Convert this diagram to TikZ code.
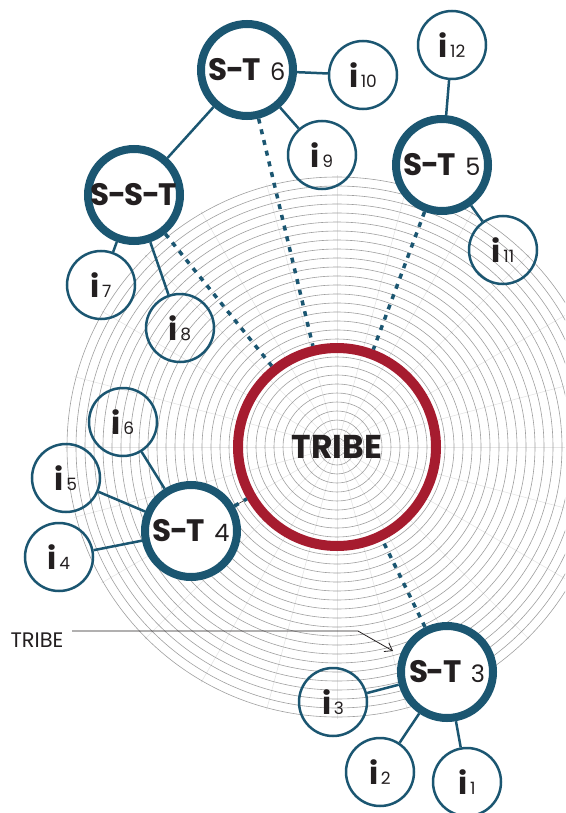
\documentclass[tikz,border=0pt]{standalone}
\usepackage{fontspec}
\setmainfont{Poppins}
\usetikzlibrary{arrows.meta,calc}
\definecolor{tribeblue}{HTML}{1B5671}
\definecolor{tribered}{HTML}{A61C2F}
\definecolor{ink}{HTML}{231F20}
\newcommand{\hy}{\kern-1.5pt-\kern-1.5pt}
\newcommand{\stnum}[1]{\hspace{0.3em}{\fontsize{24}{24}\selectfont\mdseries #1}}
\newcommand{\inum}[1]{{\fontsize{31}{31}\selectfont\bfseries i}\hspace{0.25em}{\fontsize{17}{17}\selectfont #1}}
\tikzset{
  ring/.style={gray!75, line width=0.6pt},
  spoke/.style={gray!20, line width=0.6pt},
  sub/.style={circle, draw=tribeblue, line width=8pt, fill=white, minimum size=92pt,
    inner sep=0pt, text=ink, font=\fontsize{31}{31}\selectfont\bfseries},
  ind/.style={circle, draw=tribeblue, line width=2.5pt, minimum size=68pt, inner sep=0pt, text=ink},
  link/.style={tribeblue, line width=2.5pt},
  dots/.style={tribeblue, line width=3.5pt, dash pattern=on 5pt off 6pt},
  pointer/.style={ink, line width=0.8pt, -{Straight Barb[length=7pt,width=10pt]}}
}

\begin{document}
\begin{tikzpicture}[x=1pt,y=-1pt]
  \useasboundingbox (0,0) rectangle (565,813);
  \coordinate (c) at (337,447);
  \begin{scope}
    \clip (0,0) rectangle (565,813);
    \foreach \a in {0,15,...,345}
      \draw[spoke] (c) -- ++(\a:272pt);
    \foreach \r in {9,18,...,272}
      \draw[ring] (c) circle[radius=\r pt];
  \end{scope}

  \node[circle, draw=tribered, line width=10pt, minimum size=198pt, inner sep=0pt,
    text=ink, font=\fontsize{33}{33}\selectfont\bfseries] (tribe) at (c) {TRIBE};

  \node[sub] (st6) at (247,70) {S\hy T\stnum{6}};
  \node[sub] (st5) at (442,165) {S\hy T\stnum{5}};
  \node[sub] (sst) at (134,195) {S\hy S\hy T};
  \node[sub] (st4) at (191,531) {S\hy T\stnum{4}};
  \node[sub] (st3) at (447,672) {S\hy T\stnum{3}};

  \node[ind] (i1) at (467,782) {\inum{1}};
  \node[ind] (i2) at (380,772) {\inum{2}};
  \node[ind] (i3) at (333,702) {\inum{3}};
  \node[ind] (i4) at (59,557) {\inum{4}};
  \node[ind] (i5) at (66,478) {\inum{5}};
  \node[ind] (i6) at (123,422) {\inum{6}};
  \node[ind] (i7) at (101,285) {\inum{7}};
  \node[ind] (i8) at (180,328) {\inum{8}};
  \node[ind] (i9) at (322,155) {\inum{9}};
  \node[ind] (i10) at (363,75) {\inum{10}};
  \node[ind] (i11) at (503,250) {\inum{11}};
  \node[ind] (i12) at (452,45) {\inum{12}};

  \draw[dots] (st6) -- (tribe);
  \draw[dots] (st5) -- (tribe);
  \draw[dots] (sst) -- (tribe);
  \draw[dots] (st3) -- (tribe);
  \draw[ink, line width=0.5pt] (st4) -- (tribe);
  \draw[dots] (st4) -- (tribe);

  \draw[link] (st6) -- (sst);
  \draw[link] (st6) -- (i10);
  \draw[link] (st6) -- (i9);
  \draw[link] (st5) -- (i12);
  \draw[link] (st5) -- (i11);
  \draw[link] (sst) -- (i7);
  \draw[link] (sst) -- (i8);
  \draw[link] (st4) -- (i4);
  \draw[link] (st4) -- (i5);
  \draw[link] (st4) -- (i6);
  \draw[link] (st3) -- (i1);
  \draw[link] (st3) -- (i2);
  \draw[link] (st3) -- (i3);

  \node[text=ink, font=\fontsize{21}{21}\selectfont] (lbl) at (37,640) {TRIBE};
  \coordinate (bend) at (358,631);
  \coordinate (tip) at (393,651);
  \draw[pointer] (lbl.east |- bend) ++(5,0) -- (bend) -- (tip);
\end{tikzpicture}
\end{document}
